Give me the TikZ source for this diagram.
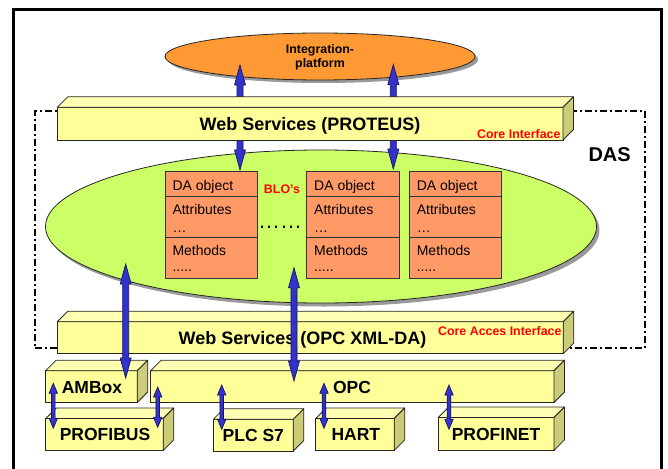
\documentclass[tikz,border=0pt]{standalone}
\usepackage{fontspec}
\setmainfont{Liberation Sans}
\usetikzlibrary{calc,fit,shapes.geometric}
\definecolor{orng}{HTML}{FF9933}
\definecolor{limeg}{HTML}{CCFF66}
\definecolor{daor}{HTML}{FF9966}
\definecolor{ylwF}{HTML}{FFFF99}
\definecolor{ylwT}{HTML}{FFFFB3}
\definecolor{ylwS}{HTML}{CCCC77}
\definecolor{arrB}{HTML}{3333CC}
\definecolor{arrO}{HTML}{151560}
\definecolor{shd}{HTML}{999999}
\definecolor{redt}{HTML}{FF0000}
\tikzset{
  frontface/.style={rectangle,draw=black!85,line width=0.8pt,fill=ylwF,inner sep=0pt,outer sep=0pt},
  topface/.style={draw=black!85,line width=0.8pt,fill=ylwT,line join=round},
  sideface/.style={draw=black!85,line width=0.8pt,fill=ylwS,line join=round},
  blockarr/.style={fill=arrB,draw=arrO,line width=0.7pt,line join=miter},
  darow/.style={rectangle,draw=black!80,line width=0.8pt,fill=daor,inner sep=0pt,outer sep=0pt},
  datxt/.style={anchor=base west,inner sep=0pt,font=\fontsize{14pt}{16pt}\selectfont},
  bigtxt/.style={anchor=base,inner sep=0pt,font=\fontsize{18pt}{20pt}\selectfont\bfseries},
  boxtxt/.style={anchor=base,inner sep=0pt,font=\fontsize{17.5pt}{20pt}\selectfont\bfseries},
  smalltxt/.style={anchor=base,inner sep=0pt,font=\fontsize{12.4pt}{14pt}\selectfont\bfseries},
  redtxt/.style={anchor=base east,inner sep=0pt,text=redt,font=\fontsize{12.4pt}{14pt}\selectfont\bfseries},
}
\newcommand\cuboid[6]{%
  \node[frontface,fit={(#2,#3) (#4,#5)}] (#1) {};
  \filldraw[topface] (#1.north west) -- ++(#6,-#6) -- ($(#1.north east)+(#6,-#6)$) -- (#1.north east) -- cycle;
  \filldraw[sideface] (#1.north east) -- ++(#6,-#6) -- ($(#1.south east)+(#6,-#6)$) -- (#1.south east) -- cycle;
}
\newcommand\dblarr[5]{%
  \filldraw[blockarr] let \p1=(#1), \p2=(#2) in
    (\x1,\y1) -- (\x1+#4pt,\y1-#5pt) -- (\x1+#3pt,\y1-#5pt) -- (\x1+#3pt,\y2+#5pt)
    -- (\x1+#4pt,\y2+#5pt) -- (\x1,\y2) -- (\x1-#4pt,\y2+#5pt) -- (\x1-#3pt,\y2+#5pt)
    -- (\x1-#3pt,\y1-#5pt) -- (\x1-#4pt,\y1-#5pt) -- cycle;
}
\newcommand\dabox[2]{%
  \node[darow,fit={(#2,171.7) (#2+92.3,196)}] (#1r1) {};
  \node[darow,fit={(#2,196) (#2+92.3,237.3)}] (#1r2) {};
  \node[darow,fit={(#2,237.3) (#2+92.3,278.3)}] (#1r3) {};
  \node[datxt] (#1t1) at (#2+7.3,190) {DA object};
  \node[datxt] (#1t2) at (#2+7.3,214) {Attributes};
  \node[datxt] (#1t3) at (#2+7.3,232) {…};
  \node[datxt] (#1t4) at (#2+7.3,255) {Methods};
  \node[datxt] (#1t5) at (#2+7.3,271.5) {.....};
}
\begin{document}
\begin{tikzpicture}[x=1pt,y=-1pt]
\useasboundingbox (0,0) rectangle (668,468);
% outer frame
\begin{scope}
  \clip (0,0) rectangle (668,468);
  \draw[line width=2.7pt] (13.7,9.7) rectangle (661.7,490);
\end{scope}
% DAS dash-dot region
\node[rectangle,inner sep=0pt,draw,line width=1.7pt,dash pattern=on 7pt off 3pt on 2pt off 3pt,fit={(35,110.7) (644.7,348.3)}] (das) {};
% integration platform
\node[ellipse,fill=shd,minimum width=310pt,minimum height=47pt,inner sep=0pt] (ipshadow) at (323,59.5) {};
\node[ellipse,draw=black!85,line width=0.8pt,fill=orng,minimum width=310pt,minimum height=47pt,inner sep=0pt] (ip) at (320,56.5) {};
% green BLO ellipse
\node[ellipse,fill=shd,minimum width=551pt,minimum height=153pt,inner sep=0pt] (bloshadow) at (324,230) {};
\node[ellipse,draw=black!85,line width=0.8pt,fill=limeg,minimum width=551pt,minimum height=153pt,inner sep=0pt] (blo) at (321,226.5) {};
% DA object boxes
\dabox{da1}{165}
\dabox{da2}{306.7}
\dabox{da3}{409.3}
\node[anchor=base,inner sep=0pt,text=redt,font=\fontsize{12.4pt}{14pt}\selectfont\bfseries] (blolbl) at (282,193.3) {BLO’s};
\node[anchor=base,inner sep=0pt,font=\fontsize{22pt}{24pt}\selectfont] (dots) at (280,228.5) {……};
% upper arrows (behind PROTEUS bar)
\coordinate (u1t) at (240,65);
\coordinate (u1b) at (240,170);
\coordinate (u2t) at (393.3,64.5);
\coordinate (u2b) at (393.3,169);
\dblarr{u1t}{u1b}{3}{5.5}{20}
\dblarr{u2t}{u2b}{3}{5.5}{20}
% PROTEUS bar
\cuboid{ws1}{57.3}{107.3}{563}{140}{10.5}
\node[bigtxt] (ws1lbl) at (310,130) {Web Services (PROTEUS)};
\node[redtxt] (corei) at (560.7,138) {Core Interface};
% OPC XML-DA bar
\cuboid{ws2}{57.3}{321.7}{563.3}{353.5}{10.5}
\node[bigtxt] (ws2lbl) at (302.5,344) {Web Services (OPC XML-DA)};
\node[redtxt] (corea) at (561.7,335) {Core Acces Interface};
% lower boxes
\cuboid{ambox}{45.7}{370.7}{137.3}{402.5}{10.5}
\cuboid{opc}{150.7}{370.7}{554}{402.5}{10.5}
\cuboid{profibus}{45.7}{418.5}{163.3}{450.3}{10.5}
\cuboid{plc}{213.3}{419.3}{293.3}{451}{10.5}
\cuboid{hart}{315.7}{418.5}{394.3}{450.3}{10.5}
\cuboid{profinet}{438.3}{417.5}{554}{450.3}{10.5}
\node[boxtxt] (amboxlbl) at (92,393.5) {AMBox};
\node[boxtxt] (opclbl) at (352,393.5) {OPC};
\node[boxtxt] (profibuslbl) at (105,440) {PROFIBUS};
\node[boxtxt] (plclbl) at (253.3,441) {PLC S7};
\node[boxtxt] (hartlbl) at (355.8,440.5) {HART};
\node[boxtxt] (profinetlbl) at (496,440) {PROFINET};
% lower big arrows
\coordinate (l1t) at (125.7,264);
\coordinate (l1b) at (125.7,378);
\coordinate (l2t) at (294,267.7);
\coordinate (l2b) at (294,381);
\dblarr{l1t}{l1b}{3}{5.5}{20}
\dblarr{l2t}{l2b}{3}{5.5}{20}
% small arrows
\coordinate (s1t) at (53.3,383.3);
\coordinate (s1b) at (53.3,428.3);
\coordinate (s2t) at (157.7,387);
\coordinate (s2b) at (157.7,427.3);
\coordinate (s3t) at (221.7,385);
\coordinate (s3b) at (221.7,429.3);
\coordinate (s4t) at (324,383.3);
\coordinate (s4b) at (324,428.3);
\coordinate (s5t) at (449,385);
\coordinate (s5b) at (449,429.3);
\dblarr{s1t}{s1b}{1.8}{4.2}{10}
\dblarr{s2t}{s2b}{1.8}{4.2}{10}
\dblarr{s3t}{s3b}{1.8}{4.2}{10}
\dblarr{s4t}{s4b}{1.8}{4.2}{10}
\dblarr{s5t}{s5b}{1.8}{4.2}{10}
% labels
\node[anchor=base west,inner sep=0pt,font=\fontsize{20pt}{22pt}\selectfont\bfseries] (daslbl) at (588.3,161.7) {DAS};
\node[smalltxt] (iplbl1) at (320,53.3) {Integration-};
\node[smalltxt] (iplbl2) at (320,67.7) {platform};
\end{tikzpicture}
\end{document}
